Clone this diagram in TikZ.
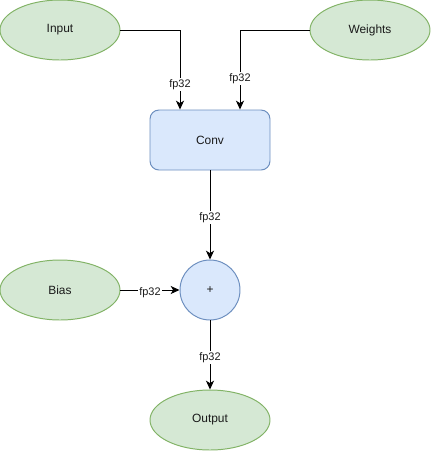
\documentclass[tikz,border=0pt]{standalone}
\usepackage{fontspec}
\setmainfont{Liberation Sans}
\usepackage{tikz}
\usetikzlibrary{
  arrows.meta,
  shapes.geometric,
  positioning,
  calc
}
\definecolor{ioFill}{HTML}{D5E8D4}
\definecolor{ioDraw}{HTML}{82B366}
\definecolor{opFill}{HTML}{DAE8FC}
\definecolor{opDraw}{HTML}{6C8EBF}
\definecolor{txt}{HTML}{1A1A1A}
\tikzset{
  ionode/.style={
    draw=ioDraw, fill=ioFill, ellipse, minimum width=3cm, minimum height=1.5cm,
    inner sep=0pt, line width=0.7pt, font=\fontsize{8.5}{10}\selectfont, text=txt
  },
  opbox/.style={
    draw=opDraw, fill=opFill, rounded corners=0.225cm, minimum width=3cm,
    minimum height=1.5cm, inner sep=0pt, line width=0.7pt,
    font=\fontsize{8.5}{10}\selectfont, text=txt
  },
  opcircle/.style={
    draw=opDraw, fill=opFill, circle, minimum size=1.5cm, inner sep=0pt,
    line width=0.7pt, font=\fontsize{8.5}{10}\selectfont, text=txt
  },
  flow/.style={-{Stealth[length=2.2mm, width=2mm, inset=0.6mm]}, line width=0.7pt, black},
  tag/.style={font=\fontsize{7.8}{9}\selectfont, fill=white, inner sep=1pt, text=txt, yshift=-1.8pt}
}

\begin{document}
\begin{tikzpicture}
  \useasboundingbox (0,0) rectangle (10.775,-11.275);
  \node[ionode] (input) at (1.5,-0.75) {Input};
  \node[ionode] (weights) at (9.25,-0.75) {Weights};
  \node[opbox] (conv) at (5.25,-3.5) {Conv};
  \node[opcircle] (add) at (5.25,-7.25) {+};
  \node[ionode] (bias) at (1.5,-7.25) {Bias};
  \node[ionode] (output) at (5.25,-10.5) {Output};
  \coordinate (convin) at ([xshift=-0.75cm]conv.north);
  \coordinate (convw) at ([xshift=0.75cm]conv.north);
  \draw[flow] (input.east) -| node[tag, pos=0.825] {fp32} (convin);
  \draw[flow] (weights.west) -| node[tag, pos=0.79] {fp32} (convw);
  \draw[flow] (conv.south) -- node[tag, pos=0.5] {fp32} (add.north);
  \draw[flow] (bias.east) -- node[tag, pos=0.5] {fp32} (add.west);
  \draw[flow] (add.south) -- node[tag, pos=0.5] {fp32} (output.north);
\end{tikzpicture}
\end{document}
